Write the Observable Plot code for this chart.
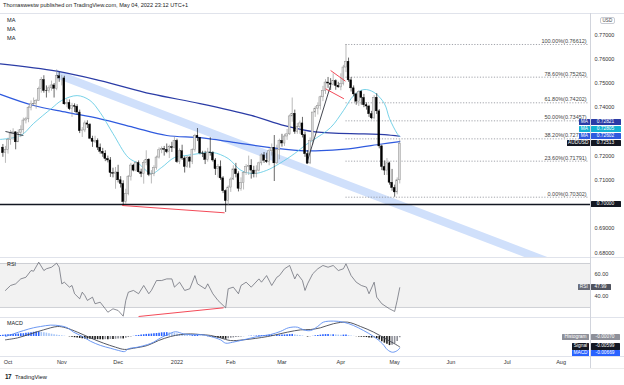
<!DOCTYPE html>
<html><head><meta charset="utf-8">
<script src="https://cdn.jsdelivr.net/npm/d3@7"></script>
<script src="https://cdn.jsdelivr.net/npm/@observablehq/plot@0.6"></script>
<style>
html,body{margin:0;padding:0;background:#fff;}
#root{position:relative;width:624px;height:385px;overflow:hidden;font-family:"Liberation Sans",Arial,sans-serif;color:#131722;background:#fff;}
.hl{position:absolute;left:0;width:624px;height:1px;background:#e0e3eb;}
.box{position:absolute;height:6.4px;line-height:6.6px;font-size:4.8px;color:#fff;text-align:center;white-space:nowrap;border-radius:0.5px;}
.txt{position:absolute;white-space:nowrap;font-size:5.6px;color:#131722;}
</style></head><body><div id="root"></div>
<script>
// ---------- DATA ----------
const firstBar = -2; // Sep 29 2021 ; index 0 = Oct 1 2021, 153 = May 4 2022
const opens = [0.7235,0.7212,0.7226,0.7266,0.7293,0.7298,0.7257,0.7296,0.7307,0.7347,0.7352,0.7400,0.7414,0.7415,0.7427,0.7478,0.7514,0.7469,0.7468,0.7480,0.7492,0.7478,0.7530,0.7521,0.7521,0.7414,0.7420,0.7394,0.7406,0.7404,0.7380,0.7303,0.7306,0.7335,0.7330,0.7272,0.7259,0.7263,0.7235,0.7218,0.7210,0.7188,0.7182,0.7130,0.7127,0.7132,0.7100,0.7085,0.7010,0.7044,0.7115,0.7161,0.7140,0.7171,0.7133,0.7126,0.7172,0.7185,0.7122,0.7125,0.7150,0.7194,0.7224,0.7229,0.7226,0.7216,0.7237,0.7233,0.7263,0.7175,0.7220,0.7190,0.7155,0.7194,0.7177,0.7226,0.7284,0.7275,0.7211,0.7210,0.7184,0.7215,0.7212,0.7182,0.7146,0.7154,0.7108,0.7055,0.7014,0.7070,0.7103,0.7145,0.7125,0.7065,0.7088,0.7130,0.7156,0.7160,0.7140,0.7125,0.7140,0.7170,0.7203,0.7181,0.7175,0.7220,0.7234,0.7170,0.7225,0.7263,0.7252,0.7281,0.7290,0.7364,0.7375,0.7300,0.7320,0.7335,0.7286,0.7208,0.7170,0.7263,0.7380,0.7396,0.7406,0.7443,0.7470,0.7504,0.7500,0.7494,0.7510,0.7490,0.7484,0.7498,0.7566,0.7590,0.7513,0.7480,0.7455,0.7425,0.7465,0.7440,0.7410,0.7405,0.7373,0.7356,0.7441,0.7385,0.7240,0.7155,0.7140,0.7170,0.7090,0.7068,0.7050,0.7100];
const highs = [0.7248,0.7240,0.7274,0.7306,0.7313,0.7301,0.7308,0.7325,0.7357,0.7360,0.7406,0.7428,0.7440,0.7434,0.7485,0.7525,0.7532,0.7490,0.7490,0.7510,0.7500,0.7556,0.7546,0.7534,0.7530,0.7434,0.7432,0.7418,0.7416,0.7412,0.7390,0.7318,0.7345,0.7346,0.7334,0.7282,0.7282,0.7271,0.7250,0.7232,0.7222,0.7200,0.7194,0.7150,0.7153,0.7162,0.7115,0.7098,0.7063,0.7120,0.7170,0.7166,0.7178,0.7180,0.7146,0.7181,0.7222,0.7189,0.7140,0.7160,0.7200,0.7234,0.7238,0.7240,0.7250,0.7245,0.7257,0.7278,0.7270,0.7230,0.7245,0.7197,0.7200,0.7198,0.7230,0.7290,0.7314,0.7277,0.7220,0.7220,0.7232,0.7276,0.7218,0.7190,0.7165,0.7180,0.7115,0.7060,0.7077,0.7110,0.7160,0.7170,0.7135,0.7110,0.7135,0.7165,0.7200,0.7185,0.7158,0.7160,0.7175,0.7210,0.7215,0.7212,0.7230,0.7250,0.7285,0.7245,0.7270,0.7290,0.7290,0.7310,0.7370,0.7440,0.7390,0.7335,0.7345,0.7360,0.7300,0.7222,0.7275,0.7380,0.7405,0.7420,0.7448,0.7488,0.7516,0.7525,0.7520,0.7540,0.7515,0.7505,0.7540,0.7575,0.7661,0.7605,0.7525,0.7490,0.7460,0.7470,0.7470,0.7455,0.7420,0.7410,0.7385,0.7450,0.7458,0.7392,0.7245,0.7180,0.7190,0.7175,0.7145,0.7080,0.7110,0.7266];
const lows = [0.7195,0.7170,0.7208,0.7245,0.7265,0.7226,0.7256,0.7276,0.7290,0.7333,0.7338,0.7387,0.7405,0.7394,0.7427,0.7460,0.7460,0.7440,0.7460,0.7468,0.7440,0.7470,0.7505,0.7490,0.7410,0.7400,0.7388,0.7360,0.7380,0.7370,0.7293,0.7277,0.7297,0.7314,0.7268,0.7236,0.7252,0.7223,0.7208,0.7195,0.7177,0.7172,0.7112,0.7110,0.7063,0.7089,0.7068,0.6993,0.7000,0.7036,0.7097,0.7135,0.7135,0.7130,0.7111,0.7084,0.7160,0.7115,0.7085,0.7115,0.7142,0.7188,0.7210,0.7200,0.7210,0.7190,0.7215,0.7230,0.7170,0.7165,0.7182,0.7130,0.7150,0.7150,0.7165,0.7216,0.7260,0.7205,0.7194,0.7165,0.7175,0.7200,0.7175,0.7120,0.7110,0.7100,0.7045,0.6967,0.6995,0.7050,0.7099,0.7110,0.7052,0.7055,0.7060,0.7120,0.7120,0.7105,0.7110,0.7110,0.7135,0.7160,0.7170,0.7170,0.7160,0.7200,0.7095,0.7165,0.7185,0.7237,0.7240,0.7265,0.7285,0.7340,0.7290,0.7290,0.7290,0.7275,0.7195,0.7165,0.7165,0.7245,0.7360,0.7370,0.7390,0.7425,0.7455,0.7480,0.7471,0.7490,0.7472,0.7480,0.7470,0.7490,0.7545,0.7505,0.7465,0.7445,0.7410,0.7405,0.7410,0.7400,0.7390,0.7360,0.7350,0.7350,0.7372,0.7230,0.7140,0.7120,0.7120,0.7080,0.7055,0.7030,0.7040,0.7085];
const closes = [0.7212,0.7226,0.7266,0.7293,0.7298,0.7257,0.7296,0.7307,0.7347,0.7352,0.7400,0.7414,0.7415,0.7427,0.7478,0.7514,0.7469,0.7468,0.7480,0.7492,0.7478,0.7530,0.7521,0.7521,0.7414,0.7420,0.7394,0.7406,0.7404,0.7380,0.7303,0.7306,0.7335,0.7330,0.7272,0.7259,0.7263,0.7235,0.7218,0.7210,0.7188,0.7182,0.7130,0.7127,0.7132,0.7100,0.7085,0.7010,0.7044,0.7115,0.7161,0.7140,0.7171,0.7133,0.7126,0.7172,0.7185,0.7122,0.7125,0.7150,0.7194,0.7224,0.7229,0.7226,0.7216,0.7237,0.7233,0.7263,0.7175,0.7220,0.7190,0.7155,0.7194,0.7177,0.7226,0.7284,0.7275,0.7211,0.7210,0.7184,0.7215,0.7212,0.7182,0.7146,0.7154,0.7108,0.7055,0.7014,0.7070,0.7103,0.7145,0.7125,0.7065,0.7088,0.7130,0.7156,0.7160,0.7140,0.7125,0.7140,0.7170,0.7203,0.7181,0.7175,0.7220,0.7234,0.7170,0.7225,0.7263,0.7252,0.7281,0.7290,0.7364,0.7375,0.7300,0.7320,0.7335,0.7286,0.7208,0.7170,0.7263,0.7380,0.7396,0.7406,0.7443,0.7470,0.7504,0.7500,0.7494,0.7510,0.7490,0.7484,0.7498,0.7566,0.7590,0.7513,0.7480,0.7455,0.7425,0.7465,0.7440,0.7410,0.7405,0.7373,0.7356,0.7441,0.7385,0.7240,0.7155,0.7140,0.7170,0.7090,0.7068,0.7050,0.7100,0.7251];

const maSlowBars = [-3,19,36,56,75,95,108,120,139,147,153];
const maSlowVals = [0.7581,0.7551,0.7512,0.7457,0.7417,0.7368,0.7326,0.7300,0.7292,0.7289,0.7282];
const maMidBars = [-3,10,23,36,49,62,75,88,101,114,120,133,146,153];
const maMidVals = [0.7455,0.7409,0.7381,0.7354,0.7319,0.7285,0.7276,0.7257,0.7237,0.7223,0.7222,0.7230,0.7250,0.7260];
const maFastBars = [-3,5,10,17,21,27,32,36,41,47,51,56,60,65,70,75,80,86,91,96,101,106,112,116,119,126,131,135,139,143,147,149,152,153];
const maFastVals = [0.7269,0.7285,0.7335,0.7397,0.7430,0.7450,0.7430,0.7380,0.7293,0.7194,0.7169,0.7128,0.7153,0.7194,0.7203,0.7211,0.7215,0.7190,0.7141,0.7128,0.7141,0.7169,0.7211,0.7244,0.7265,0.7318,0.7388,0.7450,0.7475,0.7463,0.7417,0.7355,0.7293,0.7280];
const maLabels = [0.72821, 0.72805, 0.72602];
const lastPrice = 0.72513;

// Fibonacci retracement
const fibPct = [100, 78.6, 61.8, 50, 38.2, 23.6, 0];
const fibPrices = [0.76612, 0.75262, 0.74202, 0.73457, 0.72713, 0.71791, 0.70302];
const fibFromBar = 132, fibToBar = 227, fibLabelBar = 226;

// drawings
const supportLevel = 0.70;
const channelBars = [19, 215];
const channelTop = [0.7556, 0.6764];
const channelWidth = 0.0036;
const priceDivergence = {x1: 44.6, y1: 0.69959, x2: 84.6, y2: 0.69657};
const riseLine = {x1: 116.6, y1: 0.71682, x2: 126, y2: 0.7492};
const redFlag = [{x1: 126, y1: 0.75537, x2: 131.8, y2: 0.75095}, {x1: 124, y1: 0.74781, x2: 131.2, y2: 0.74368}];
const smallLine = {x1: -1, y1: 0.73017, x2: 6, y2: 0.72851};

// RSI
const rsiBars = [-1,1,3,5,7,9,10,12,14,15,17,19,20,21,22,24,25,26,28,29,30,31,33,34,36,38,39,41,43,45,46,47,49,51,53,55,56,58,60,62,64,65,67,69,71,73,74,75,77,78,80,82,85,86,88,90,91,93,95,98,99,101,103,105,106,108,110,112,113,115,116,117,119,121,123,125,127,129,131,132,134,136,138,140,141,143,144,146,148,149,151,152,153];
const rsiVals = [45.5,50,51.5,56,57.5,63.6,63,71.2,63.6,65.2,66.6,70.3,66.6,51.5,53,48.5,50,42.5,37.9,43.9,40.9,36.4,39.4,33.4,34.8,28.8,25.7,28.8,27.3,22.1,36.4,43.9,45.5,42.5,50,42.5,45.5,54.5,54.5,56,56,48.5,53,45.5,47,59,51.5,50,47,51.5,42.5,36.4,29.7,47,48.5,42.5,50,53,48.5,56,53,59,50,57.5,59,65.2,68.2,56,60.6,54.5,45.5,51.5,60.6,65.2,68.2,66.6,68.2,63.6,65.2,69.7,59,53,50,48.5,42.5,53,39.4,33.4,30.3,28.8,26.4,36.4,47.99];
const rsiLevels = [30, 70];
const rsiTicks = [40, 60];
const rsiDivergence = {x1: 51, y1: 21.8, x2: 84.2, y2: 29.7};

// MACD
const macdBars = [-1,2.1,6.1,10,12.7,16.6,20.5,23.2,25.6,29.1,32.2,36.1,40,43.2,45.5,47.1,50.6,54.5,56.8,59.6,62.3,65.4,68.6,72.1,75.2,79.1,83,85,87.7,92,97.5,102.5,106.4,109.6,113.1,115.4,118.2,120.9,123.2,127.1,131,134.9,138.9,142.8,146.3,148.2,150.2,152.1,153];
const macdVals = [0,0.0015,0.0034,0.005,0.0057,0.0065,0.0061,0.005,0.0025,0,-0.0027,-0.0051,-0.0067,-0.008,-0.0086,-0.007,-0.0061,-0.0046,-0.0033,-0.0008,0.0011,0.0027,0.0015,0.001,0.0011,0,-0.0019,-0.0038,-0.0033,-0.0019,0,0.0011,0.0029,0.005,0.0053,0.0038,0.0034,0.0057,0.0082,0.0088,0.0082,0.0063,0.0034,0,-0.0042,-0.0076,-0.009,-0.008,-0.00669];
const signalBars = [-1,3.7,8.8,13.9,19.3,22.5,27.1,32.2,37.3,42,45.5,49,54.5,58.8,63.5,67.4,71.3,75.2,79.1,83,86.9,92,101.4,109.2,114.3,118.2,122.1,127.1,132.6,137.7,142.8,148.2,152.1,153];
const signalVals = [-0.0019,-0.0008,0.0015,0.0038,0.0057,0.005,0.0025,-0.0008,-0.0038,-0.0061,-0.0074,-0.0067,-0.0051,-0.0023,0,0.0011,0.0015,0.0011,0.0006,-0.0008,-0.0023,-0.0019,0,0.0025,0.0038,0.004,0.005,0.0073,0.0082,0.0057,0.0025,-0.0019,-0.0051,-0.00599];
const histFirstBar = -3;
const histVals = [6,7,9,10,11,12,13,14,15,16,18,20,22,24,25,25,24,22,19,16,13,10,8,6,4,2,0,-2,-5,-7,-9,-11,-13,-14,-15,-16,-17,-18,-18,-19,-19,-18,-18,-17,-17,-16,-15,-14,-14,-10,-6,-3,1,4,6,8,10,12,13,14,15,17,19,21,22,22,21,19,17,14,12,10,8,6,5,5,6,6,4,2,0,-1,-3,-5,-7,-9,-11,-14,-16,-13,-10,-8,-6,-5,-3,-1,0,1,2,2,3,4,5,6,6,7,8,6,7,8,8,9,10,11,12,9,7,5,3,0,-3,-2,1,4,6,8,10,11,11,10,10,9,8,7,8,8,5,3,1,-1,-3,-4,-5,-6,-8,-9,-8,-12,-20,-30,-38,-45,-52,-50,-42,-28,-7]; // x 1e-4
const macdLast = {hist: -0.00070, signal: -0.00599, macd: -0.00669};

// axes (0.70000 and 0.73000 are covered by price tags in the reference)
const priceTicks = [0.68,0.69,0.71,0.72,0.74,0.75,0.76,0.77];
const monthBars = [0,21,43,66,87,107,130,151,173,195,216];
const monthLabels = ["Oct","Nov","Dec","2022","Feb","Mar","Apr","May","Jun","Jul","Aug"];

// ---------- BUILD ----------
const root = document.getElementById("root");
const font = "Liberation Sans, Arial, sans-serif";
const xDomain = [-2.93, 227.5];
const baseStyle = {fontFamily: font, fontSize: "5.5px", color: "#333", background: "transparent", overflow: "visible"};

const bars = opens.map((o, k) => ({i: firstBar + k, o, h: highs[k], l: lows[k], c: closes[k]}));
const up = bars.filter(d => d.c >= d.o), dn = bars.filter(d => d.c < d.o);
const toPts = (bs, vs) => bs.map((b, k) => ({i: b, v: vs[k]}));
const channel = channelBars.map((b, k) => ({i: b, top: channelTop[k], bot: channelTop[k] - channelWidth}));
const fib = fibPct.map((p, k) => ({p, v: fibPrices[k], t: `${p.toFixed(2)}%(${fibPrices[k].toFixed(5)})`}));

const COL_SLOW = "#2b3ca6", COL_MID = "#2f5ade", COL_FAST = "#56c6e2";

function addLine(y, x0 = 0, w = 624, color = "#e0e3eb") {
  const d = document.createElement("div"); d.className = "hl";
  d.style.top = y + "px"; d.style.left = x0 + "px"; d.style.width = w + "px"; d.style.background = color;
  root.appendChild(d);
}
function addText(x, y, t, size = 5.6, extra = {}) {
  const d = document.createElement("div"); d.className = "txt";
  d.style.left = x + "px"; d.style.top = (y - size * 0.6) + "px"; d.style.fontSize = size + "px";
  Object.assign(d.style, extra); d.textContent = t; root.appendChild(d); return d;
}
function addBox(parent, x, y, w, t, bg, fg = "#fff") {
  const d = document.createElement("div"); d.className = "box";
  d.style.left = x + "px"; d.style.top = (y - 3.2) + "px"; d.style.width = w + "px";
  d.style.background = bg; d.style.color = fg; d.textContent = t; parent.appendChild(d);
}

// header
addText(3, 5, "Thomaswestw published on TradingView.com, May 04, 2022 23:12 UTC+1", 5.6, {color: "#222"});

// main pane
const MAIN_TOP = 13;
const main = Plot.plot({
  width: 624, height: 244, marginTop: 0, marginBottom: 0, marginLeft: 0, marginRight: 34,
  style: baseStyle,
  x: {domain: xDomain, axis: null},
  y: {domain: [0.678099, 0.778926]},
  marks: [
    Plot.areaY(channel, {x: "i", y1: "bot", y2: "top", fill: "#d0e0fb", clip: true}),
    Plot.ruleY(fib, {y: "v", x1: fibFromBar, x2: fibToBar, stroke: "#8a8d96", strokeWidth: 0.8, strokeDasharray: "1.2,1.6", clip: true}),
    Plot.text(fib, {x: fibLabelBar, y: "v", text: "t", textAnchor: "end", dy: -3.2, fill: "#444", fontSize: 5.5}),
    Plot.ruleY([supportLevel], {stroke: "#131722", strokeWidth: 1.3}),
    Plot.line(toPts(maSlowBars, maSlowVals), {x: "i", y: "v", stroke: COL_SLOW, strokeWidth: 1.2, curve: "catmull-rom", clip: true}),
    Plot.line(toPts(maMidBars, maMidVals), {x: "i", y: "v", stroke: COL_MID, strokeWidth: 1.2, curve: "catmull-rom", clip: true}),
    Plot.line(toPts(maFastBars, maFastVals), {x: "i", y: "v", stroke: COL_FAST, strokeWidth: 0.8, curve: "catmull-rom", clip: true}),
    Plot.ruleX(up, {x: "i", y1: "l", y2: "h", stroke: "#8c8c8c", strokeWidth: 0.6, clip: true}),
    Plot.ruleX(dn, {x: "i", y1: "l", y2: "h", stroke: "#000", strokeWidth: 0.6, clip: true}),
    Plot.rect(up, {x1: d => d.i - 0.36, x2: d => d.i + 0.36, y1: "o", y2: "c", fill: "#e2e2e2", stroke: "#8c8c8c", strokeWidth: 0.5, clip: true}),
    Plot.rect(dn, {x1: d => d.i - 0.36, x2: d => d.i + 0.36, y1: "o", y2: "c", fill: "#000", stroke: "#000", strokeWidth: 0.4, clip: true}),
    Plot.link([priceDivergence], {x1: "x1", y1: "y1", x2: "x2", y2: "y2", stroke: "#f23645", strokeWidth: 0.9}),
    Plot.link([riseLine], {x1: "x1", y1: "y1", x2: "x2", y2: "y2", stroke: "#131722", strokeWidth: 0.8}),
    Plot.link(redFlag, {x1: "x1", y1: "y1", x2: "x2", y2: "y2", stroke: "#f23645", strokeWidth: 0.9}),
    Plot.link([smallLine], {x1: "x1", y1: "y1", x2: "x2", y2: "y2", stroke: "#131722", strokeWidth: 0.8}),
    Plot.axisY({anchor: "right", ticks: priceTicks, tickFormat: d => d.toFixed(5), tickSize: 0, tickPadding: 4, label: null, fill: "#333"})
  ]
});
main.style.position = "absolute"; main.style.left = "0px"; main.style.top = MAIN_TOP + "px";
root.appendChild(main);

// RSI pane
const RSI_TOP = 257;
const rsiChart = Plot.plot({
  width: 624, height: 60, marginTop: 0, marginBottom: 0, marginLeft: 0, marginRight: 34,
  style: baseStyle,
  x: {domain: xDomain, axis: null},
  y: {domain: [20.9, 75.45]},
  marks: [
    Plot.rect([rsiLevels], {y1: d => d[0], y2: d => d[1], fill: "#f2f2f2"}),
    Plot.ruleY(rsiLevels, {stroke: "#c3c5cb", strokeWidth: 0.8}),
    Plot.line(toPts(rsiBars, rsiVals), {x: "i", y: "v", stroke: "#5d606b", strokeWidth: 0.7, clip: true}),
    Plot.link([rsiDivergence], {x1: "x1", y1: "y1", x2: "x2", y2: "y2", stroke: "#f23645", strokeWidth: 0.9}),
    Plot.axisY({anchor: "right", ticks: rsiTicks, tickFormat: d => d.toFixed(2), tickSize: 0, tickPadding: 4, label: null, fill: "#333"})
  ]
});
rsiChart.style.position = "absolute"; rsiChart.style.left = "0px"; rsiChart.style.top = RSI_TOP + "px";
root.appendChild(rsiChart);

// MACD pane (with time axis)
const MACD_TOP = 317;
const hist = histVals.map((v, k) => ({i: histFirstBar + k, v: v / 10000, prev: k > 0 ? histVals[k - 1] / 10000 : v / 10000}));
const hPosUp = hist.filter(d => d.v >= 0 && d.v >= d.prev);
const hPosDn = hist.filter(d => d.v >= 0 && d.v < d.prev);
const hNegDn = hist.filter(d => d.v < 0 && d.v <= d.prev);
const hNegUp = hist.filter(d => d.v < 0 && d.v > d.prev);
const monthMap = new Map(monthBars.map((b, k) => [b, monthLabels[k]]));
const macdChart = Plot.plot({
  width: 624, height: 52, marginTop: 0, marginBottom: 13, marginLeft: 0, marginRight: 34,
  style: baseStyle,
  x: {domain: xDomain},
  y: {domain: [-0.011429, 0.010857], axis: null},
  marks: [
    Plot.ruleX(hPosUp, {x: "i", y1: 0, y2: "v", stroke: "#2962ff", strokeWidth: 1.6, clip: true}),
    Plot.ruleX(hPosDn, {x: "i", y1: 0, y2: "v", stroke: "#a7c6f7", strokeWidth: 1.6, clip: true}),
    Plot.ruleX(hNegDn, {x: "i", y1: 0, y2: "v", stroke: "#1c1c1c", strokeWidth: 1.6, clip: true}),
    Plot.ruleX(hNegUp, {x: "i", y1: 0, y2: "v", stroke: "#8e9099", strokeWidth: 1.6, clip: true}),
    Plot.line(toPts(signalBars, signalVals), {x: "i", y: "v", stroke: "#434651", strokeWidth: 0.9, curve: "catmull-rom", clip: true}),
    Plot.line(toPts(macdBars, macdVals), {x: "i", y: "v", stroke: "#5b8cf0", strokeWidth: 0.9, curve: "catmull-rom", clip: true}),
    Plot.axisX({ticks: monthBars, tickFormat: d => monthMap.get(d), tickSize: 0, tickPadding: 4, label: null, fill: "#333"})
  ]
});
macdChart.style.position = "absolute"; macdChart.style.left = "0px"; macdChart.style.top = MACD_TOP + "px";
root.appendChild(macdChart);

// separators
addLine(13); addLine(257); addLine(317); addLine(356); addLine(368, 0, 624, "#ececec");
const vl = document.createElement("div");
vl.style.cssText = "position:absolute;left:590px;top:13px;width:1px;height:355px;background:#d1d4dc;";
root.appendChild(vl);

// pane titles
addText(7, 20, "MA"); addText(7, 29, "MA"); addText(7, 38, "MA");
addText(7, 264, "RSI", 5.4); addText(7, 323, "MACD", 5.4);

// USD tag
addText(600, 19.5, "USD", 4.6, {border: "0.5px solid #c9ccd4", borderRadius: "2px", padding: "0 1.5px", lineHeight: "5.5px", color: "#444"});

// price labels on right scale (positions from Plot's y scale)
const ys = v => main.scale("y").apply(v) + MAIN_TOP;
const priceBoxes = [
  {name: "AUDUSD", v: lastPrice, bg: "#131722", lw: 23},
  {name: "MA", v: maLabels[2], bg: COL_MID, lw: 11},
  {name: "MA", v: maLabels[1], bg: "#14b3d3", lw: 11},
  {name: "MA", v: maLabels[0], bg: COL_SLOW, lw: 11}
];
let prevY = Infinity;
for (const b of priceBoxes) {
  let y = ys(b.v);
  if (y > prevY - 7) y = prevY - 7;
  prevY = y;
  addBox(root, 590 - b.lw, y, b.lw - 0.5, b.name, b.bg);
  addBox(root, 590.5, y, 30, b.v.toFixed(5), b.bg);
}
addBox(root, 590.5, ys(supportLevel), 30, supportLevel.toFixed(5), "#131722");

// RSI label
const rsiY = rsiChart.scale("y").apply(rsiVals[rsiVals.length - 1]) + RSI_TOP;
addBox(root, 578, rsiY, 11.5, "RSI", "#6a6d78");
addBox(root, 590.5, rsiY, 20, rsiVals[rsiVals.length - 1].toFixed(2), "#50535e");

// MACD labels (clipped to pane)
const clipBox = document.createElement("div");
clipBox.style.cssText = `position:absolute;left:0;top:${MACD_TOP}px;width:624px;height:39px;overflow:hidden;`;
root.appendChild(clipBox);
const my = v => macdChart.scale("y").apply(v);
const hy = my(macdLast.hist), sy = my(macdLast.signal);
let mY = my(macdLast.macd); if (mY < sy + 7) mY = sy + 7;
addBox(clipBox, 562, hy, 27, "Histogram", "#8e9099");
addBox(clipBox, 590.5, hy, 29, macdLast.hist.toFixed(5), "#8e9099");
addBox(clipBox, 572, sy, 17, "Signal", "#131722");
addBox(clipBox, 590.5, sy, 29, macdLast.signal.toFixed(5), "#131722");
addBox(clipBox, 572, mY, 17, "MACD", "#2962ff");
addBox(clipBox, 590.5, mY, 29, macdLast.macd.toFixed(5), "#2962ff");

// footer
addText(5, 377, "17", 6.4, {fontWeight: "900", letterSpacing: "-0.6px", color: "#131722"});
addText(15, 377, "TradingView", 5.8, {color: "#131722"});
</script></body></html>
